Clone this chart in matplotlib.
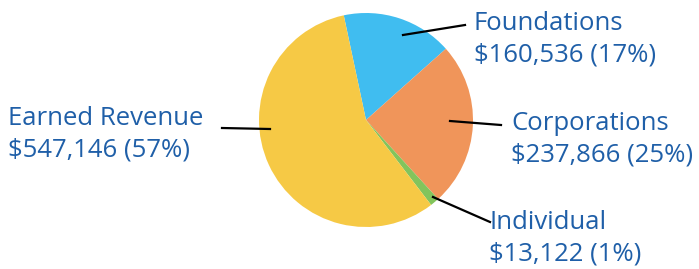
import matplotlib.pyplot as plt

names = ['Foundations', 'Corporations', 'Individual', 'Earned Revenue']
amounts = [160536, 237866, 13122, 547146]
pcts = ['17%', '25%', '1%', '57%']
colors = ['#40BDF0', '#F0955A', '#82C45C', '#F6C945']

W, H = 699, 269
fig = plt.figure(figsize=(W / 100, H / 100), dpi=100)

# pie centred about (366,120) px, radius ~107 px
ax = fig.add_axes([259 / W, (H - 227) / H, 214 / W, 214 / H])
ax.pie(amounts, colors=colors, startangle=102, counterclock=False,
       wedgeprops=dict(linewidth=0))
ax.set_xlim(-1, 1)
ax.set_ylim(-1, 1)
ax.set_aspect('equal')
ax.axis('off')

# overlay in pixel coords for labels and leader lines
ov = fig.add_axes([0, 0, 1, 1])
ov.set_xlim(0, W)
ov.set_ylim(H, 0)
ov.axis('off')

txt_blue = '#1F5FA8'
labels = {
    'Foundations': (474, 11, [(403, 35), (465, 25)]),
    'Corporations': (511, 111, [(450, 121), (501, 125)]),
    'Individual': (489, 210, [(433, 197), (490, 222)]),
    'Earned Revenue': (8, 106, [(222, 128), (270, 129)]),
}
for n, a, p in zip(names, amounts, pcts):
    x, y, seg = labels[n]
    ov.text(x, y, '%s\n$%s (%s)' % (n, format(a, ','), p), va='top', ha='left',
            fontsize=18.5, family='Open Sans', color=txt_blue, linespacing=1.34)
    ov.plot([seg[0][0], seg[1][0]], [seg[0][1], seg[1][1]], color='black', lw=1.6)

fig.savefig('out.png', dpi=100)
